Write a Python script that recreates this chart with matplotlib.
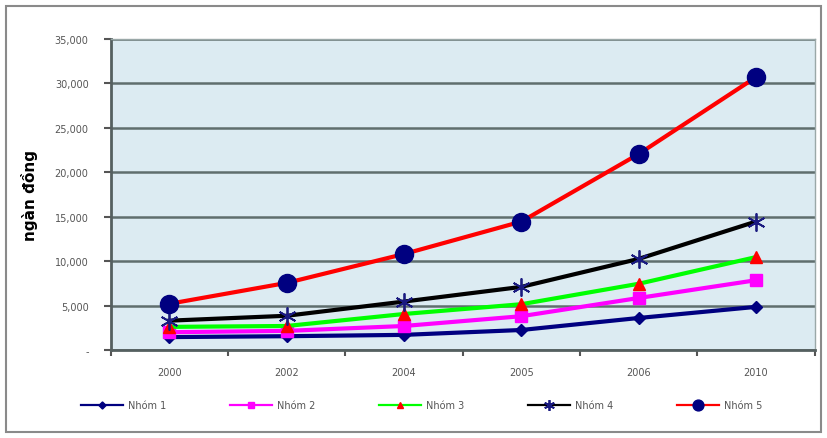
import matplotlib
matplotlib.use("Agg")
import matplotlib.pyplot as plt
from matplotlib.patches import Rectangle
import numpy as np

years = ["2000", "2002", "2004", "2005", "2006", "2010"]
nhom1 = [1450, 1550, 1700, 2250, 3600, 4850]
nhom2 = [2000, 2150, 2700, 3800, 5850, 7850]
nhom3 = [2600, 2700, 4050, 5150, 7450, 10450]
nhom4 = [3300, 3850, 5450, 7100, 10250, 14450]
nhom5 = [5200, 7550, 10800, 14450, 22050, 30700]
series_names = ["Nhóm 1", "Nhóm 2", "Nhóm 3", "Nhóm 4", "Nhóm 5"]
yticks = [0, 5000, 10000, 15000, 20000, 25000, 30000, 35000]
ytick_labels = ["-", "5,000", "10,000", "15,000", "20,000", "25,000", "30,000", "35,000"]

fig = plt.figure(figsize=(8.27, 4.39), dpi=100)
fig.patches.append(Rectangle((0.007, 0.013), 0.986, 0.972, transform=fig.transFigure,
                             fill=False, edgecolor="#8a8a8a", linewidth=1.5))
ax = fig.add_axes([0.134, 0.2005, 0.851, 0.7085])
ax.set_facecolor("#dcebf2")

x = np.arange(len(years))
styles = [
    dict(color="#000080", marker="D", markersize=6, mfc="#000080", mec="#000080"),
    dict(color="#ff00ff", marker="s", markersize=8, mfc="#ff00ff", mec="#ff00ff"),
    dict(color="#00ff00", marker="^", markersize=8, mfc="#ff0000", mec="#ff0000"),
    dict(color="#000000", marker=(6, 2, 0), markersize=13, mfc="#1a1a80", mec="#1a1a80", mew=1.3),
    dict(color="#ff0000", marker="o", markersize=13, mfc="#000080", mec="#000080"),
]
data = [nhom1, nhom2, nhom3, nhom4, nhom5]
for vals, name, st in zip(data, series_names, styles):
    ax.plot(x, vals, linewidth=3, label=name, zorder=3, **st)

ax.set_xlim(-0.5, len(years) - 0.5)
ax.set_ylim(0, 35000)
ax.set_yticks(yticks)
ax.set_yticklabels(ytick_labels, fontsize=7, color="#555555")
ax.yaxis.grid(True, color="#5f6e6e", linewidth=1.8)
ax.set_axisbelow(True)
ax.set_xticks(x)
ax.set_xticklabels(years, fontsize=7, color="#555555")
ax.tick_params(axis="x", length=0, pad=12)
ax.set_xticks(np.arange(-0.5, len(years), 1.0), minor=True)
ax.tick_params(axis="x", which="minor", length=4, color="#555555", width=1.5, direction="out")
ax.tick_params(axis="y", length=5, color="#555555", width=1.5, pad=11)

for s in ["left", "bottom"]:
    ax.spines[s].set_color("#556060")
    ax.spines[s].set_linewidth(2)
for s in ["right", "top"]:
    ax.spines[s].set_color("#9aa8a8")
    ax.spines[s].set_linewidth(1)

ax.set_ylabel("ngàn đồng", fontsize=11, fontweight="bold", labelpad=12)

leg = fig.legend(loc="center", bbox_to_anchor=(0.51, 0.075), ncol=5, frameon=False,
                 fontsize=7, handlelength=4.3, columnspacing=6.6, markerscale=0.6,
                 handletextpad=0.5)
for t in leg.get_texts():
    t.set_color("#555555")
for h in leg.legend_handles:
    h.set_linewidth(1.6)

fig.savefig("out.png", dpi=100)
